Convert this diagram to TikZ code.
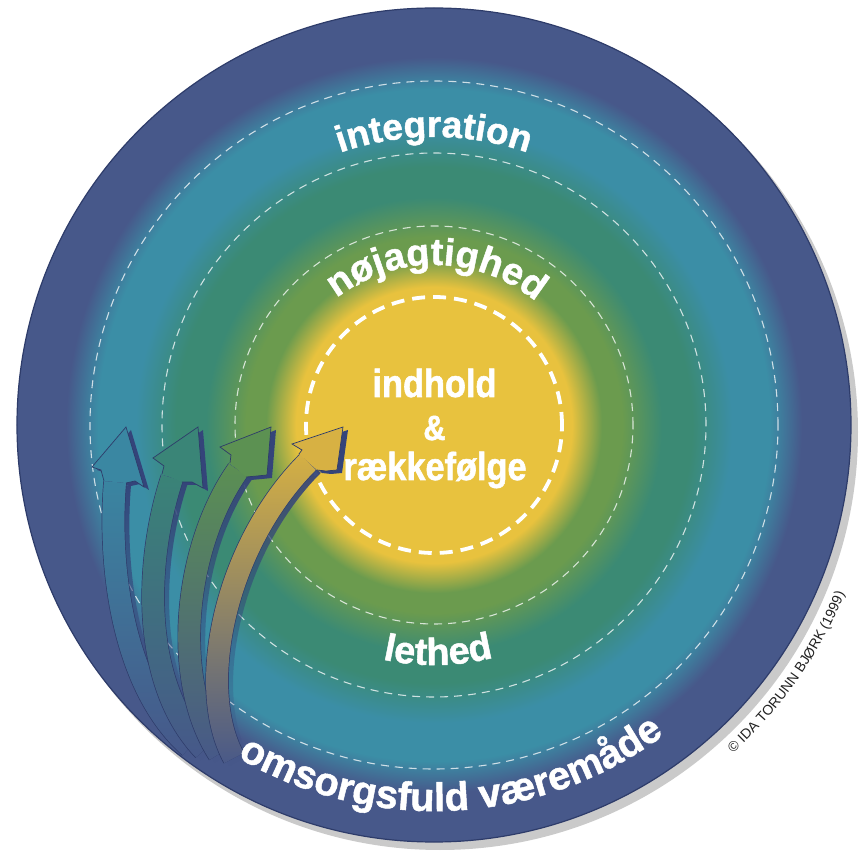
\documentclass[tikz,border=0pt]{standalone}
\usepackage{fontspec}
\setmainfont{Liberation Sans}
\newfontfamily\lbl{Liberation Sans}[BoldFeatures={FakeBold=1.2}]
\newfontfamily\cnd{Liberation Sans}[FakeStretch=0.88, BoldFeatures={FakeBold=1.4}]
\usetikzlibrary{decorations.text,fadings}

\definecolor{cyel}{HTML}{E8C23E}
\definecolor{cgrn}{HTML}{6B9B4E}
\definecolor{ctgr}{HTML}{3B8A74}
\definecolor{cteal}{HTML}{3B8EA6}
\definecolor{cnavy}{HTML}{47588A}
\definecolor{cedge}{HTML}{2E3C6A}
\definecolor{cshadow}{HTML}{CACACA}
\definecolor{cdark}{HTML}{34447A}
\definecolor{aone}{HTML}{3A87A2}
\definecolor{atwo}{HTML}{3A8577}
\definecolor{athree}{HTML}{5C9152}
\definecolor{afour}{HTML}{D7B143}
\definecolor{ctext}{HTML}{222222}

\pgfdeclareradialshading{rings}{\pgfpoint{0pt}{0pt}}{%
 color(0pt)=(cyel); color(138pt)=(cyel); color(168pt)=(cgrn); color(188pt)=(cgrn);
 color(228pt)=(ctgr); color(258pt)=(ctgr); color(298pt)=(cteal); color(336pt)=(cteal);
 color(368pt)=(cnavy); color(420pt)=(cnavy)}

\tikzfading[name=arrfade, top color=transparent!0, middle color=transparent!40, bottom color=transparent!100]

\tikzset{
 thindash/.style={draw=white, draw opacity=0.75, line width=1.1pt, dash pattern=on 8pt off 6pt},
 bolddash/.style={draw=white, line width=3.8pt, dash pattern=on 13pt off 8pt},
 shaftline/.style={double=cnavy, double distance=22pt, draw=cedge, line width=0.7pt},
 shaftcolor/.style={line width=22pt, draw=#1, path fading=arrfade},
 shaftshadow/.style={line width=22pt, draw=cdark, path fading=arrfade},
 headfill/.style={fill=#1, draw=cedge, line width=0.7pt, line join=miter},
 headshadow/.style={fill=cdark},
}

\begin{document}
\begin{tikzpicture}[x=1pt,y=1pt]
\useasboundingbox (-434,-426) rectangle (434,425);
\fill[white] (-434,-426) rectangle (434,425);

% shadow and rings
\fill[cshadow] (6,-7) circle (418);
\begin{scope}
 \clip (0,0) circle (417);
 \node[inner sep=0pt] (bg) at (0,0) {\pgfuseshading{rings}};
\end{scope}
\draw[cedge, line width=1.2pt] (0,0) circle (417);

\draw[thindash] (0,0) circle (344);
\draw[thindash] (0,0) circle (272);
\draw[thindash] (0,0) circle (199);
\draw[bolddash] (0,0) circle (128);

% arrow 1
\begin{scope}[shift={(5,-3)}]
 \draw[shaftshadow] (-244,-322) .. controls (-312,-262) and (-326,-140) .. (-319,-57);
 \fill[headshadow] (-330,-56) -- (-333,-45) -- (-342,-42) -- (-308,-2) -- (-290,-62) -- (-299,-56) -- (-308,-58) -- cycle;
\end{scope}
\draw[shaftline] (-244,-322) .. controls (-312,-262) and (-326,-140) .. (-319,-57);
\draw[shaftcolor=aone] (-244,-322) .. controls (-312,-262) and (-326,-140) .. (-319,-57);
\filldraw[headfill=aone] (-330,-56) -- (-333,-45) -- (-342,-42) -- (-308,-2) -- (-290,-62) -- (-299,-56) -- (-308,-58);

% arrow 2
\begin{scope}[shift={(5,-3)}]
 \draw[shaftshadow] (-230,-325) .. controls (-294,-258) and (-289,-135) .. (-262,-53);
 \fill[headshadow] (-272,-49) -- (-270,-41) -- (-281,-33) -- (-236,-2) -- (-231,-63) -- (-242,-57) -- (-252,-57) -- cycle;
\end{scope}
\draw[shaftline] (-230,-325) .. controls (-294,-258) and (-289,-135) .. (-262,-53);
\draw[shaftcolor=atwo] (-230,-325) .. controls (-294,-258) and (-289,-135) .. (-262,-53);
\filldraw[headfill=atwo] (-272,-49) -- (-270,-41) -- (-281,-33) -- (-236,-2) -- (-231,-63) -- (-242,-57) -- (-252,-57);

% arrow 3
\begin{scope}[shift={(5,-3)}]
 \draw[shaftshadow] (-215,-329) .. controls (-264,-253) and (-249,-120) .. (-196,-45);
 \fill[headshadow] (-204,-38) -- (-203,-30) -- (-214,-22) -- (-163,-2) -- (-167,-50) -- (-177,-51) -- (-188,-52) -- cycle;
\end{scope}
\draw[shaftline] (-215,-329) .. controls (-264,-253) and (-249,-120) .. (-196,-45);
\draw[shaftcolor=athree] (-215,-329) .. controls (-264,-253) and (-249,-120) .. (-196,-45);
\filldraw[headfill=athree] (-204,-38) -- (-203,-30) -- (-214,-22) -- (-163,-2) -- (-167,-50) -- (-177,-51) -- (-188,-52);

% arrow 4
\begin{scope}[shift={(5,-3)}]
 \draw[shaftshadow] (-200,-333) .. controls (-239,-262) and (-209,-120) .. (-126,-37);
 \fill[headshadow] (-135,-29) -- (-132,-25) -- (-142,-19) -- (-91,-2) -- (-97,-45) -- (-108,-46) -- (-117,-45) -- cycle;
\end{scope}
\draw[shaftline] (-200,-333) .. controls (-239,-262) and (-209,-120) .. (-126,-37);
\draw[shaftcolor=afour] (-200,-333) .. controls (-239,-262) and (-209,-120) .. (-126,-37);
\filldraw[headfill=afour] (-135,-29) -- (-132,-25) -- (-142,-19) -- (-91,-2) -- (-97,-45) -- (-108,-46) -- (-117,-45);

% curved labels
\path[decorate, decoration={text along path, text align=center, text color=white,
   text={|\lbl\bfseries\fontsize{37}{37}\selectfont|integration}}]
   (165:288) arc[start angle=165, end angle=15, radius=288];
\path[decorate, decoration={text along path, text align=center, text color=white,
   text={|\lbl\bfseries\fontsize{38}{38}\selectfont|nøjagtighed}}]
   (169:160) arc[start angle=169, end angle=9, radius=160];
\path[decorate, decoration={text along path, text align=center, text color=white,
   text={|\lbl\bfseries\fontsize{38}{38}\selectfont|lethed}}]
   (201:240) arc[start angle=201, end angle=341, radius=240];
\path[decorate, decoration={text along path, text align=center, text color=white,
   text={|\lbl\bfseries\fontsize{40}{40}\selectfont|omsorgsfuld væremåde}}]
   (203:386) arc[start angle=203, end angle=343, radius=386];
\path[decorate, decoration={text along path, text align=center, text color=ctext,
   text={|\lbl\fontsize{14}{14}\selectfont|© IDA TORUNN BJØRK (1999)}}]
   (-75:444) arc[start angle=-75, end angle=5, radius=444];

% centre text
\node[font=\cnd\bfseries\fontsize{39}{39}\selectfont, text=white, anchor=base, inner sep=0pt] (t1) at (0.5,28) {indhold};
\node[font=\cnd\bfseries\fontsize{35}{35}\selectfont, text=white, anchor=base, inner sep=0pt] (t2) at (0.5,-15) {\&};
\node[font=\cnd\bfseries\fontsize{39}{39}\selectfont, text=white, anchor=base, inner sep=0pt] (t3) at (1,-55) {rækkefølge};
\end{tikzpicture}
\end{document}
